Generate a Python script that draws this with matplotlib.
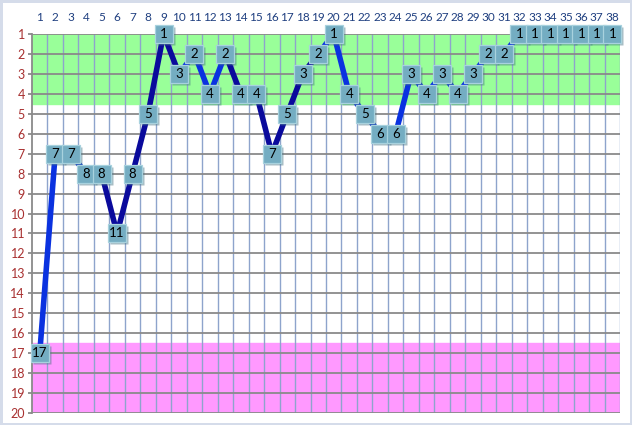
import matplotlib.pyplot as plt
import matplotlib.transforms as mtransforms

# weekly rank, one value per position 1..38
weeks = list(range(1, 39))
ranks = [17, 7, 7, 8, 8, 11, 8, 5, 1, 3, 2, 4, 2, 4, 4, 7, 5, 3, 2, 1,
         4, 5, 6, 6, 3, 4, 3, 4, 3, 2, 2, 1, 1, 1, 1, 1, 1, 1]

bright = '#0a32e0'
dark = '#0a0a9c'
seg_colors = [bright] * 4 + [dark] * 5 + [bright] * 3 + [dark] * 6 + [bright] * 19

plt.rcParams['font.family'] = ['Lato', 'DejaVu Sans']

fig = plt.figure(figsize=(6.32, 4.25), dpi=100)
fig.patch.set_edgecolor('#d5dcea')
fig.patch.set_linewidth(2.5)
ax = fig.add_axes([32 / 632, 12 / 425, 588 / 632, 379 / 425])

ax.set_xlim(0.5, 38.5)
ax.set_ylim(20, 1)

# zones
ax.axhspan(1, 4.5, color='#99ff99', zorder=0)
ax.axhspan(16.5, 20, color='#ff99ff', zorder=0)

# grid
for x in range(1, 39):
    ax.axvline(x + 0.5, color='#8ea4cc', lw=1.0, zorder=1)
for y in range(1, 21):
    ax.axhline(y, color='#8a8a8a', lw=1.3, zorder=1)

for s in ['top', 'bottom', 'right']:
    ax.spines[s].set_visible(False)
ax.spines['left'].set_color('#8a8a8a')
ax.spines['left'].set_linewidth(1.3)

ax.xaxis.tick_top()
ax.set_xticks(weeks)
ax.set_xticklabels([str(w) for w in weeks], color='#1f3f80', fontsize=8.5)
ax.tick_params(axis='x', length=0, pad=8)
ax.set_yticks(range(1, 21))
ax.set_yticklabels([str(y) for y in range(1, 21)], color='#a83030', fontsize=9)
ax.tick_params(axis='y', length=3, color='#8a8a8a', width=1.3, pad=2)

# line, one segment at a time
for i in range(len(weeks) - 1):
    ax.plot(weeks[i:i + 2], ranks[i:i + 2], color=seg_colors[i], lw=4,
            solid_capstyle='butt', zorder=3, clip_on=False)

# boxed labels
shadow = mtransforms.offset_copy(ax.transData, fig=fig, x=2, y=-2, units='dots')
ax.plot(weeks, ranks, 's', ms=13.5, color='#3f6f80', alpha=0.45, mec='none',
        transform=shadow, zorder=4, clip_on=False)
ax.plot(weeks, ranks, 's', ms=13.5, color='#74adc2', mec='#a8d2de', mew=0.9,
        zorder=5, clip_on=False)
for w, r in zip(weeks, ranks):
    ax.text(w, r, str(r), ha='center', va='center', fontsize=9.5, color='black',
            zorder=6)

fig.savefig('out.png', dpi=100)
